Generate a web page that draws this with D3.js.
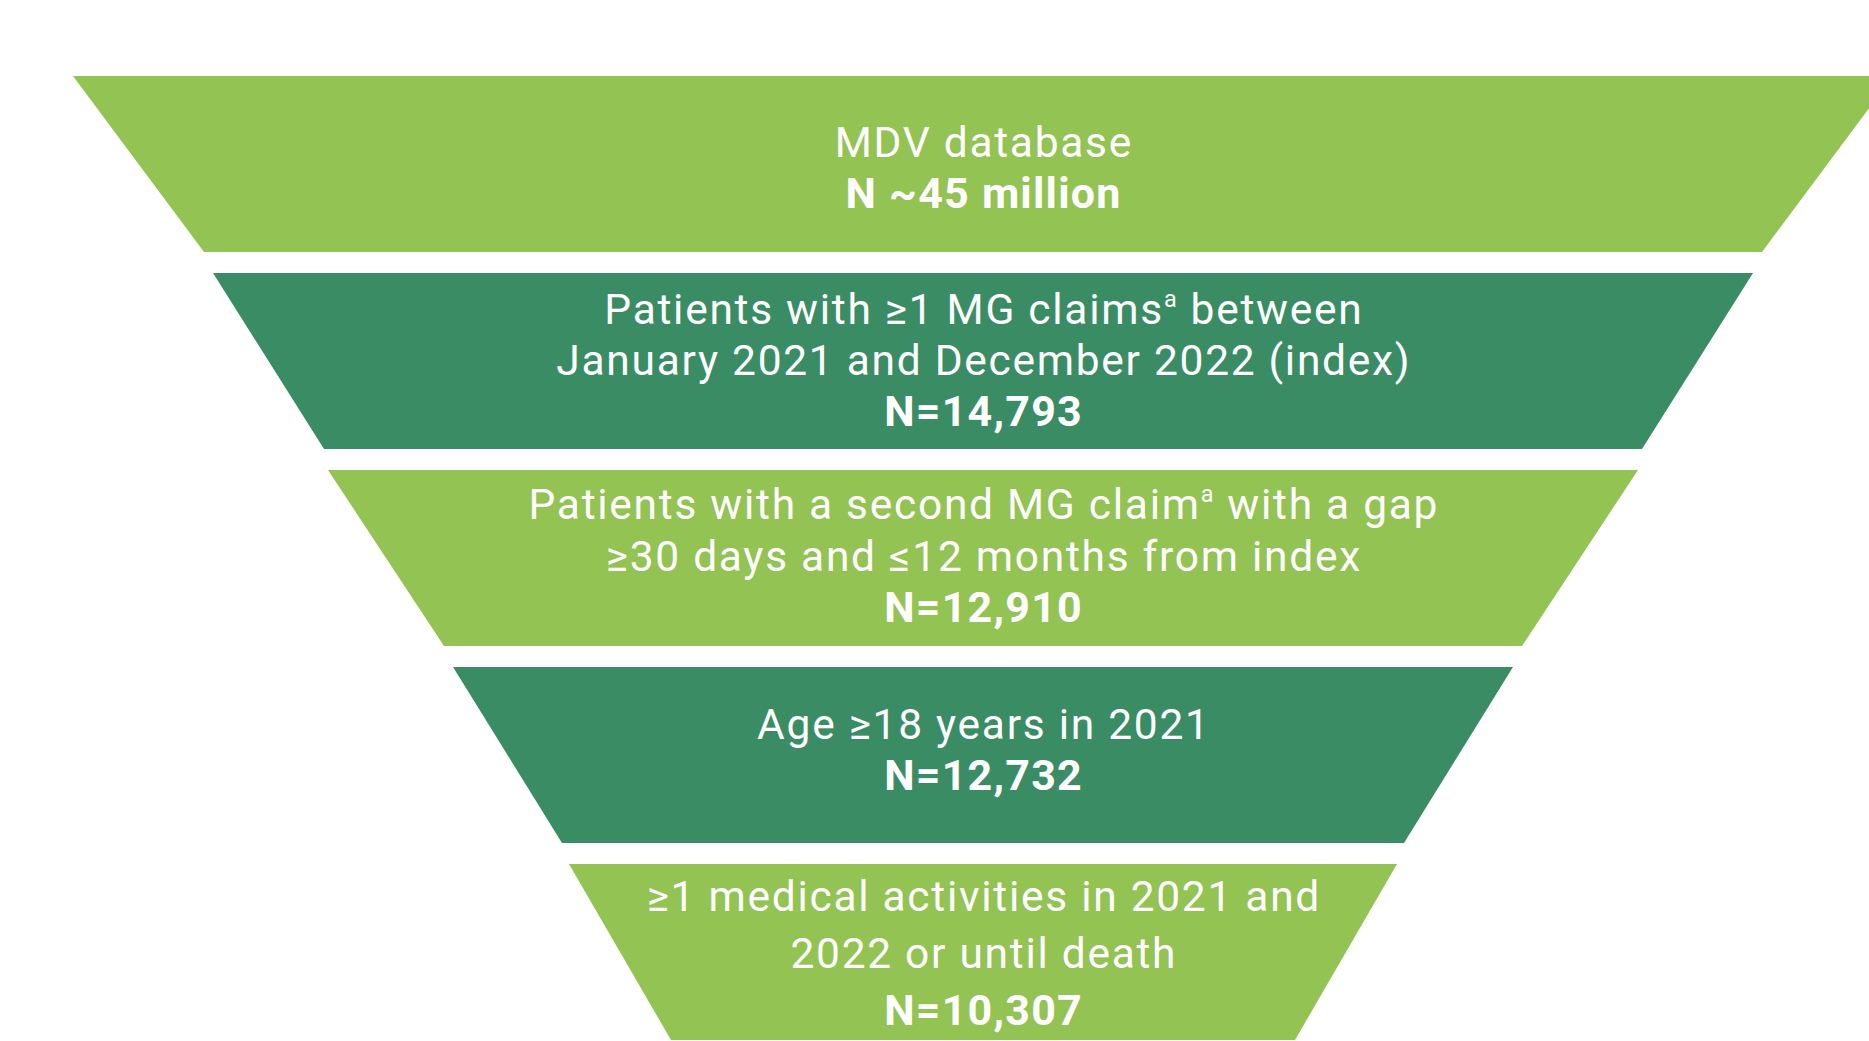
<!DOCTYPE html>
<html>
<head>
<meta charset="utf-8">
<script src="https://cdn.jsdelivr.net/npm/d3@7"></script>
<style>
  body { margin: 0; background: #fff; }
</style>
</head>
<body>
<div id="chart"></div>
<script>
// stage descriptions, "^a" marks the footnote superscript
const stageText = [
  ["MDV database"],
  ["Patients with ≥1 MG claims^a between", "January 2021 and December 2022 (index)"],
  ["Patients with a second MG claim^a with a gap", "≥30 days and ≤12 months from index"],
  ["Age ≥18 years in 2021"],
  ["≥1 medical activities in 2021 and", "2022 or until death"]
];
const stageN = [45000000, 14793, 12910, 12732, 10307];
const stageApprox = [true, false, false, false, false];

const width = 1869;
const height = 1041;
const cx = 983;
// half widths of each trapezoid, top and bottom edge
const topHalf = [910, 770, 655, 530, 414];
const bottomHalf = [779, 659, 539, 421, 312];
const fills = ["#92c353", "#3a8c64", "#92c353", "#3a8c64", "#92c353"];
const textNudge = [3.5, -1, -2.5, -5.5, 1];
const lineGap = [51, 51, 51.5, 51, 57];
const font = "Roboto, 'Open Sans', sans-serif";
const fs = 42.5, fsBold = 43;

const svg = d3.select("#chart").append("svg")
  .attr("width", width)
  .attr("height", height)
  .style("display", "block");

const idx = d3.range(stageN.length);
const y = d3.scaleBand()
  .domain(idx)
  .range([76, 1040])
  .paddingInner(21 / 197)
  .paddingOuter(0);

const fmt = d3.format(",");
const countLabel = i => stageApprox[i]
  ? "N ~" + (stageN[i] / 1e6) + " million"
  : "N=" + fmt(stageN[i]);

// spread the letters a little so lines come out about as wide as the original
function spacing(str, size, weight, target) {
  const t = svg.append("text")
    .attr("font-family", font)
    .attr("font-weight", weight)
    .attr("font-size", size)
    .text(str);
  const w = t.node().getComputedTextLength();
  t.remove();
  return Math.max(0, (target - w) / str.length);
}
const ls = spacing(stageText[1][1], fs, 400, 855);
const lsBold = spacing(countLabel(0), fsBold, 700, 276);

svg.append("g")
  .selectAll("path")
  .data(idx)
  .join("path")
    .attr("fill", i => fills[i])
    .attr("d", i => {
      const y0 = y(i), y1 = y(i) + y.bandwidth();
      return d3.line()([
        [cx - topHalf[i], y0], [cx + topHalf[i], y0],
        [cx + bottomHalf[i], y1], [cx - bottomHalf[i], y1]
      ]) + "Z";
    });

const labels = svg.append("g")
  .attr("font-family", font)
  .attr("fill", "#fff")
  .attr("text-anchor", "middle");

idx.forEach(i => {
  const lines = stageText[i].concat([null]);
  const n = lines.length;
  const mid = y(i) + y.bandwidth() / 2 + textNudge[i];
  lines.forEach((line, j) => {
    const center = mid + (j - (n - 1) / 2) * lineGap[i];
    const bold = line === null;
    const size = bold ? fsBold : fs;
    const sp = bold ? lsBold : ls;
    const t = labels.append("text")
      .attr("x", cx + sp / 2)
      .attr("y", center + size * 0.355)
      .attr("font-size", size)
      .attr("letter-spacing", sp);
    if (bold) {
      t.attr("font-weight", 700).text(countLabel(i));
      return;
    }
    const parts = line.split("^a");
    t.append("tspan").text(parts[0]);
    if (parts.length > 1) {
      t.append("tspan")
        .attr("font-size", fs * 0.55)
        .attr("dy", -fs * 0.4)
        .text("a");
      t.append("tspan")
        .attr("dy", fs * 0.4)
        .text(parts[1]);
    }
  });
});
</script>
</body>
</html>
